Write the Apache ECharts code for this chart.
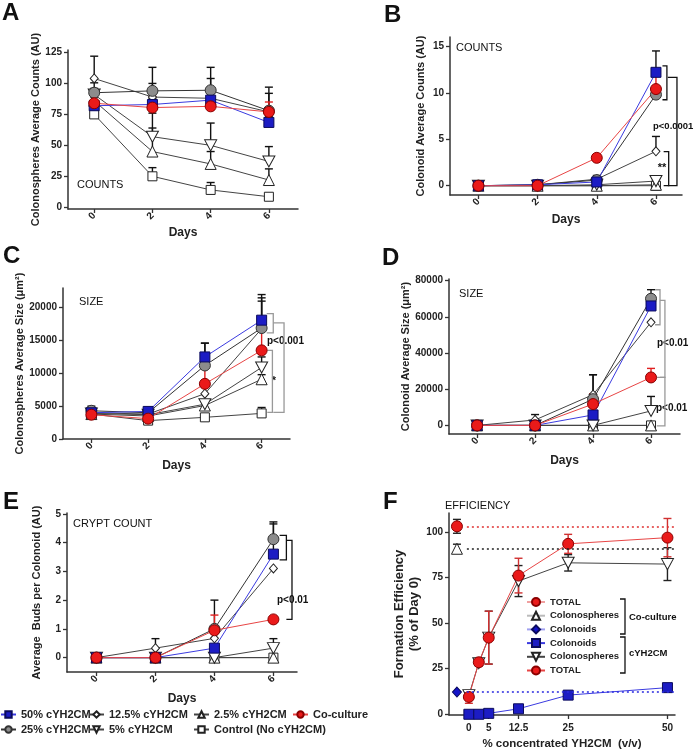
<!DOCTYPE html>
<html><head><meta charset="utf-8">
<script src="https://cdn.jsdelivr.net/npm/echarts@6/dist/echarts.min.js"></script>
<style>html,body{margin:0;padding:0;background:#fff}#c{width:694px;height:751px}</style>
</head><body><div id="c"></div>
<script>
// ---------- DATA ----------
const DAYS = [0, 2, 4, 6];
const DAY_TICKS = [0, 2, 4, 6];
const NAMES = ['Control (No cYH2CM)', '2.5% cYH2CM', '5% cYH2CM', '12.5% cYH2CM', '25% cYH2CM', '50% cYH2CM', 'Co-culture'];

// A: Colonospheres average counts (AU)
const A_ctrl = [75, 25, 14, 8.5],     A_ctrl_err = [2, 7, 6, 2];
const A_p2_5 = [86, 45, 35, 22],      A_p2_5_err = [3, 19, 10, 9];
const A_p5 = [91, 57, 50, 37],        A_p5_err = [5, 19, 18, 12];
const A_p12_5 = [104, 89, 88, 77],    A_p12_5_err = [18, 11, 5, 15];
const A_p25 = [92.5, 94, 94.5, 78],   A_p25_err = [8, 19, 18.5, 19];
const A_p50 = [82, 83, 86.5, 68.5],   A_p50_err = [3, 5, 17.5, 5];
const A_co = [84, 80.5, 81.5, 77],    A_co_err = [2, 9, 6, 8];
const A_TICKS = [0, 25, 50, 75, 100, 125];

// B: Colonoid average counts (AU)
const B_ctrl = [0, 0, 0, 0],          B_ctrl_err = [0, 0, 0, 0];
const B_p2_5 = [0, 0, 0, 0.1],        B_p2_5_err = [0, 0, 0, 0];
const B_p5 = [0, 0, 0.1, 0.5],        B_p5_err = [0, 0, 0, 0.4];
const B_p12_5 = [0, 0.1, 0.7, 3.7],   B_p12_5_err = [0, 0, 0.4, 1.6];
const B_p25 = [0, 0.1, 0.6, 9.8],     B_p25_err = [0, 0, 0, 0];
const B_p50 = [0, 0.1, 0.4, 12.2],    B_p50_err = [0, 0, 0, 2.3];
const B_co = [0, 0, 3.0, 10.4],       B_co_err = [0, 0, 0, 1.8];
const B_TICKS = [0, 5, 10, 15];

// C: Colonospheres average size (um2)
const C_ctrl = [3800, 2800, 3300, 3900],     C_ctrl_err = [0, 0, 0, 900];
const C_p2_5 = [3800, 3500, 5100, 9100],     C_p2_5_err = [0, 0, 0, 700];
const C_p5 = [3900, 3700, 5300, 10900],      C_p5_err = [0, 0, 0, 1600];
const C_p12_5 = [4000, 3800, 6900, 16800],   C_p12_5_err = [0, 0, 0, 4200];
const C_p25 = [4300, 4000, 11200, 16900],    C_p25_err = [700, 0, 3400, 4600];
const C_p50 = [4000, 4200, 12500, 18100],    C_p50_err = [0, 600, 2100, 3900];
const C_co = [3700, 3100, 8400, 13500],      C_co_err = [0, 0, 4100, 3400];
const C_TICKS = [0, 5000, 10000, 15000, 20000];

// D: Colonoid average size (um2)
const D_ctrl = [0, 0, 0, 0],                 D_ctrl_err = [0, 0, 0, 0];
const D_p2_5 = [0, 0, 0, 0],                 D_p2_5_err = [0, 0, 0, 0];
const D_p5 = [0, 0, 0, 8000],                D_p5_err = [0, 0, 0, 8000];
const D_p12_5 = [0, 3000, 17000, 57000],     D_p12_5_err = [0, 3000, 11000, 0];
const D_p25 = [0, 0, 14500, 70000],          D_p25_err = [0, 0, 13500, 5000];
const D_p50 = [0, 0, 5800, 66000],           D_p50_err = [0, 0, 0, 6000];
const D_co = [0, 0, 11800, 26500],           D_co_err = [0, 0, 5700, 5000];
const D_TICKS = [0, 20000, 40000, 60000, 80000];

// E: Average buds per colonoid (AU)
const E_ctrl = [0, 0, 0, 0],            E_ctrl_err = [0, 0, 0, 0];
const E_p2_5 = [0, 0, 0, 0],            E_p2_5_err = [0, 0, 0, 0];
const E_p5 = [0, 0, 0, 0.33],           E_p5_err = [0, 0, 0, 0.33];
const E_p12_5 = [0, 0.33, 0.67, 3.1],   E_p12_5_err = [0, 0.33, 0, 0];
const E_p25 = [0, 0, 1.0, 4.12],        E_p25_err = [0, 0, 1.0, 0.6];
const E_p50 = [0, 0, 0.33, 3.6],        E_p50_err = [0, 0, 0, 1.05];
const E_co = [0, 0, 0.95, 1.33],        E_co_err = [0, 0, 0.53, 0];
const E_TICKS = [0, 1, 2, 3, 4, 5];

// F: Formation efficiency (% of Day 0)
const F_CONC = [0, 2.5, 5, 12.5, 25, 50];
const F_CONC_TICKS = [0, 5, 12.5, 25, 50];
const F_CO_X = -3;
const F_co_total = 103, F_co_total_err = 3.8;
const F_co_spheres = 90.7, F_co_spheres_err = 2.5;
const F_co_colonoids = 12.2;
const F_colonoids = [0, 0, 0.5, 3, 10.5, 14.6];
const F_spheres = [10.5, 28, 42, 73, 83, 82.3],  F_spheres_err = [2.5, 1.5, 14.5, 8.5, 4.5, 9];
const F_total = [9.5, 28.5, 42, 76, 93.4, 96.8], F_total_err = [3.5, 1.5, 14.5, 9.5, 5.2, 10.5];
const F_TICKS = [0, 25, 50, 75, 100];

// Significance brackets [xVertical, yTop, yBottom, xArm]
const B_BRACKETS = [[6.37, 12.9, 9.25, 6.22], [6.71, 11.65, 0, 6.4], [6.43, 3.67, 0, 6.26]];
const C_BRACKETS = [[6.41, 19090, 16170, 6.18], [6.79, 17680, 4045, 6.41], [6.38, 13485, 4045, 6.2]];
const D_BRACKETS = [[6.31, 74970, 55630, 6.14], [6.48, 69060, 26520, 6.31], [6.48, 26520, -300, 6.2]];
const E_BRACKETS = [[6.44, 4.25, 3.4, 6.21], [6.63, 4.08, 1.33, 6.44]];

// ---------- STYLE / BUILD ----------
const FONT = '"Liberation Sans", Arial, Helvetica, sans-serif';
const DOWN_TRI = 'path://M0,0L10,0L5,9Z';
const STY = {
  'Control (No cYH2CM)': {symbol: 'rect', size: 9, color: '#fff', border: '#222', line: '#444'},
  '2.5% cYH2CM': {symbol: 'triangle', size: 11, color: '#fff', border: '#222', line: '#444'},
  '5% cYH2CM': {symbol: DOWN_TRI, size: [12, 11], color: '#fff', border: '#222', line: '#444'},
  '12.5% cYH2CM': {symbol: 'diamond', size: [8, 9], color: '#fff', border: '#222', line: '#444'},
  '25% cYH2CM': {symbol: 'circle', size: 11, color: '#8c8c8c', border: '#333', line: '#333'},
  '50% cYH2CM': {symbol: 'rect', size: 10, color: '#1c1cc4', border: '#0b0b5c', line: '#3b3be0'},
  'Co-culture': {symbol: 'circle', size: 11, color: '#ea1a1a', border: '#8a0000', line: '#e84545'}
};

const series = [];
function lineS(gi, name, xs, ys, st, extra) {
  return Object.assign({
    type: 'line', name, xAxisIndex: gi, yAxisIndex: gi,
    data: xs.map((x, i) => [x, ys[i]]),
    symbol: st.symbol, symbolSize: st.size, showSymbol: true,
    lineStyle: {color: st.line, width: 1},
    itemStyle: {color: st.color, borderColor: st.border, borderWidth: 1},
    z: 4, animation: false, emphasis: {disabled: true}, silent: true
  }, extra || {});
}
function errS(gi, xs, ys, errs, color, both) {
  const data = [];
  xs.forEach((x, i) => { if (errs[i] > 0) data.push([x, ys[i], ys[i] + errs[i], both ? ys[i] - errs[i] : ys[i]]); });
  return {
    type: 'custom', xAxisIndex: gi, yAxisIndex: gi, data, z: 2, silent: true, animation: false,
    renderItem: function (params, api) {
      const x = api.value(0), hi = api.value(2), lo = api.value(3);
      const pH = api.coord([x, hi]), pL = api.coord([x, lo]);
      const st = {stroke: color, lineWidth: 1.4};
      const ch = [
        {type: 'line', shape: {x1: pH[0], y1: pH[1], x2: pL[0], y2: pL[1]}, style: st},
        {type: 'line', shape: {x1: pH[0] - 4, y1: pH[1], x2: pH[0] + 4, y2: pH[1]}, style: st}
      ];
      if (both) ch.push({type: 'line', shape: {x1: pL[0] - 4, y1: pL[1], x2: pL[0] + 4, y2: pL[1]}, style: st});
      return {type: 'group', children: ch};
    }
  };
}
function bracketS(gi, list, color) {
  return {
    type: 'custom', xAxisIndex: gi, yAxisIndex: gi, data: list, z: 1, silent: true, animation: false,
    renderItem: function (params, api) {
      const xv = api.value(0), yt = api.value(1), yb = api.value(2), xa = api.value(3);
      const pts = [api.coord([xa, yt]), api.coord([xv, yt]), api.coord([xv, yb]), api.coord([xa, yb])];
      return {type: 'polyline', shape: {points: pts}, style: {stroke: color, lineWidth: 1.3, fill: null}};
    }
  };
}
function panel(gi, sets, brackets, bcolor) {
  sets.forEach(([name, ys, errs]) => {
    const st = STY[name];
    series.push(errS(gi, DAYS, ys, errs, name === 'Co-culture' ? '#e02020' : '#111', false));
    series.push(lineS(gi, name, DAYS, ys, st));
  });
  series.push(bracketS(gi, brackets, bcolor));
}
panel(0, [[NAMES[0], A_ctrl, A_ctrl_err], [NAMES[1], A_p2_5, A_p2_5_err], [NAMES[2], A_p5, A_p5_err], [NAMES[3], A_p12_5, A_p12_5_err], [NAMES[4], A_p25, A_p25_err], [NAMES[5], A_p50, A_p50_err], [NAMES[6], A_co, A_co_err]], [], '#222');
panel(1, [[NAMES[0], B_ctrl, B_ctrl_err], [NAMES[1], B_p2_5, B_p2_5_err], [NAMES[2], B_p5, B_p5_err], [NAMES[3], B_p12_5, B_p12_5_err], [NAMES[4], B_p25, B_p25_err], [NAMES[5], B_p50, B_p50_err], [NAMES[6], B_co, B_co_err]], B_BRACKETS, '#111');
panel(2, [[NAMES[0], C_ctrl, C_ctrl_err], [NAMES[1], C_p2_5, C_p2_5_err], [NAMES[2], C_p5, C_p5_err], [NAMES[3], C_p12_5, C_p12_5_err], [NAMES[4], C_p25, C_p25_err], [NAMES[5], C_p50, C_p50_err], [NAMES[6], C_co, C_co_err]], C_BRACKETS, '#999');
panel(3, [[NAMES[0], D_ctrl, D_ctrl_err], [NAMES[1], D_p2_5, D_p2_5_err], [NAMES[2], D_p5, D_p5_err], [NAMES[3], D_p12_5, D_p12_5_err], [NAMES[4], D_p25, D_p25_err], [NAMES[5], D_p50, D_p50_err], [NAMES[6], D_co, D_co_err]], D_BRACKETS, '#999');
panel(4, [[NAMES[0], E_ctrl, E_ctrl_err], [NAMES[1], E_p2_5, E_p2_5_err], [NAMES[2], E_p5, E_p5_err], [NAMES[3], E_p12_5, E_p12_5_err], [NAMES[4], E_p25, E_p25_err], [NAMES[5], E_p50, E_p50_err], [NAMES[6], E_co, E_co_err]], E_BRACKETS, '#111');

// Panel F
const redS = STY['Co-culture'];
const dotted = (c) => ({color: c, type: [2, 3], width: 1.6});
series.push(errS(5, F_CONC, F_spheres, F_spheres_err, '#222', true));
series.push(errS(5, F_CONC, F_total, F_total_err, '#d03030', true));
series.push(errS(5, [F_CO_X], [F_co_total], [F_co_total_err], '#222', true));
series.push(errS(5, [F_CO_X], [F_co_spheres], [F_co_spheres_err], '#222', true));
series.push(lineS(5, 'Colonoids (cYH2CM)', F_CONC, F_colonoids, {symbol: 'rect', size: 10, color: '#1c1cc4', border: '#0b0b5c', line: '#3b3be0'}));
series.push(lineS(5, 'Colonospheres (cYH2CM)', F_CONC, F_spheres, {symbol: DOWN_TRI, size: [12, 11], color: '#fff', border: '#222', line: '#444'}));
series.push(lineS(5, 'TOTAL (cYH2CM)', F_CONC, F_total, redS));
series.push(lineS(5, 'TOTAL (Co-culture)', [F_CO_X], [F_co_total], {symbol: 'circle', size: 11, color: '#ea1a1a', border: '#8a0000', line: '#f0a0a0'},
  {markLine: {silent: true, symbol: 'none', label: {show: false}, lineStyle: dotted('#e03030'), data: [[{coord: [-0.5, F_co_total]}, {coord: [51.9, F_co_total]}]]}}));
series.push(lineS(5, 'Colonospheres (Co-culture)', [F_CO_X], [F_co_spheres], {symbol: 'triangle', size: 11, color: '#fff', border: '#222', line: '#bbb'},
  {markLine: {silent: true, symbol: 'none', label: {show: false}, lineStyle: dotted('#222'), data: [[{coord: [-0.5, F_co_spheres]}, {coord: [51.9, F_co_spheres]}]]}}));
series.push(lineS(5, 'Colonoids (Co-culture)', [F_CO_X], [F_co_colonoids], {symbol: 'diamond', size: [9, 10], color: '#1414c8', border: '#0b0b5c', line: '#a0a0f0'},
  {markLine: {silent: true, symbol: 'none', label: {show: false}, lineStyle: dotted('#2a2ae0'), data: [[{coord: [-0.5, F_co_colonoids]}, {coord: [51.9, F_co_colonoids]}]]}}));

// ---------- AXES ----------
const AX_LINE = {show: true, onZero: false, lineStyle: {color: '#333', width: 1.5}};
const TICK_LBL = {fontFamily: FONT, fontWeight: 'bold', fontSize: 10, color: '#222'};
function xAx(gi, min, max, ticks, rotate, name, gap, nameSize) {
  return {
    type: 'value', gridIndex: gi, min, max, axisLine: AX_LINE, splitLine: {show: false},
    axisTick: {show: true, length: 4, customValues: ticks, lineStyle: {color: '#333', width: 1.3}},
    axisLabel: Object.assign({customValues: ticks, rotate, margin: rotate ? 5 : 8, formatter: v => String(v)}, TICK_LBL),
    name, nameLocation: 'middle', nameGap: gap,
    nameTextStyle: {fontFamily: FONT, fontWeight: 'bold', fontSize: nameSize || 12, color: '#222'}
  };
}
function yAx(gi, min, max, ticks, name, gap, size, lh) {
  return {
    type: 'value', gridIndex: gi, min, max, axisLine: AX_LINE, splitLine: {show: false},
    axisTick: {show: true, length: 4, customValues: ticks, lineStyle: {color: '#333', width: 1.3}},
    axisLabel: Object.assign({customValues: ticks, margin: 6, formatter: v => String(v)}, TICK_LBL),
    name, nameLocation: 'middle', nameGap: gap, nameRotate: 90,
    nameTextStyle: {fontFamily: FONT, fontWeight: 'bold', fontSize: size || 11, color: '#222', lineHeight: lh || undefined}
  };
}

const grids = [
  {left: 68, top: 50, width: 230, height: 159},
  {left: 450, top: 37, width: 232, height: 158},
  {left: 63, top: 288, width: 227, height: 151},
  {left: 449, top: 279, width: 231, height: 155},
  {left: 67, top: 513, width: 230, height: 159},
  {left: 449, top: 513, width: 226, height: 202}
];

const xAxis = [
  xAx(0, -0.9, 7.0, DAY_TICKS, 45, 'Days', 18),
  xAx(1, -0.96, 6.88, DAY_TICKS, 45, 'Days', 19),
  xAx(2, -1.0, 7.0, DAY_TICKS, 45, 'Days', 21),
  xAx(3, -0.97, 7.0, DAY_TICKS, 45, 'Days', 21),
  xAx(4, -1.0, 6.8, DAY_TICKS, 45, 'Days', 21),
  xAx(5, -5, 51.9, F_CONC_TICKS, 0, '% concentrated YH2CM  (v/v)', 23, 11.5)
];
const yAxis = [
  yAx(0, -1.4, 127, A_TICKS, 'Colonospheres Average Counts (AU)', 25),
  yAx(1, -1.0, 16.0, B_TICKS, 'Colonoid Average Counts (AU)', 24),
  yAx(2, 0, 23000, C_TICKS, 'Colonospheres Average Size (\u03bcm\u00b2)', 30),
  yAx(3, -4750, 80900, D_TICKS, 'Colonoid Average Size (\u03bcm\u00b2)', 31),
  yAx(4, -0.5, 5.03, E_TICKS, 'Average  Buds per Colonoid (AU)', 25),
  yAx(5, -0.4, 110.3, F_TICKS, 'Formation Efficiency\n(% of Day 0)', 27, 13, 15)
];

// ---------- LEGENDS ----------
const LEG_TXT = {fontFamily: FONT, fontWeight: 'bold', fontSize: 11, color: '#222'};
function leg(name, left, top) {
  return {data: [name], left, top, padding: 0, itemWidth: 15, itemHeight: 8, itemGap: 0, selectedMode: false, textStyle: LEG_TXT};
}
const legend = [
  leg('50% cYH2CM', 0, 709), leg('12.5% cYH2CM', 88, 709), leg('2.5% cYH2CM', 193, 709), leg('Co-culture', 292, 709),
  leg('25% cYH2CM', 0, 724), leg('5% cYH2CM', 88, 724), leg('Control (No cYH2CM)', 193, 724),
  {data: ['TOTAL (Co-culture)', 'Colonospheres (Co-culture)', 'Colonoids (Co-culture)', 'Colonoids (cYH2CM)', 'Colonospheres (cYH2CM)', 'TOTAL (cYH2CM)'],
   orient: 'vertical', left: 526, top: 597, padding: 0, itemWidth: 18, itemHeight: 10, itemGap: 3.7, selectedMode: false,
   formatter: n => n.split(' (')[0],
   textStyle: {fontFamily: FONT, fontWeight: 'bold', fontSize: 9.5, color: '#222', lineHeight: 10}}
];

// ---------- ANNOTATION TEXT ----------
function txt(text, x, y, size, weight, align) {
  return {type: 'text', x, y, silent: true,
    style: {text, fontFamily: FONT, fontSize: size, fontWeight: weight, fill: '#111', textAlign: align || 'left', textVerticalAlign: 'middle'}};
}
const graphic = [
  txt('A', 2, 13, 24, 'bold'), txt('B', 384, 15, 24, 'bold'), txt('C', 3, 256, 24, 'bold'),
  txt('D', 382, 258, 24, 'bold'), txt('E', 3, 502, 24, 'bold'), txt('F', 383, 502, 24, 'bold'),
  txt('COUNTS', 77, 185, 11, 'normal'), txt('COUNTS', 456, 48, 11, 'normal'),
  txt('SIZE', 79, 302, 11, 'normal'), txt('SIZE', 459, 294, 11, 'normal'),
  txt('CRYPT COUNT', 73, 524, 11, 'normal'), txt('EFFICIENCY', 445, 506, 11, 'normal'),
  txt('p<0.0001', 653, 126, 9.5, 'bold'), txt('**', 662, 168, 11, 'bold', 'center'),
  txt('p<0.001', 267, 341, 10, 'bold'), txt('*', 274, 381, 11, 'bold', 'center'),
  txt('p<0.01', 657, 343, 10, 'bold'), txt('p<0.01', 656, 408, 10, 'bold'),
  txt('p<0.01', 277, 600, 10, 'bold'),
  txt('Co-culture', 629, 617, 9.5, 'bold'), txt('cYH2CM', 629, 653, 9.5, 'bold'),
  {type: 'polyline', silent: true, shape: {points: [[620, 599], [625, 599], [625, 634], [620, 634]]}, style: {stroke: '#111', lineWidth: 1.3, fill: null}},
  {type: 'polyline', silent: true, shape: {points: [[620, 637], [625, 637], [625, 673], [620, 673]]}, style: {stroke: '#111', lineWidth: 1.3, fill: null}}
];

const chart = echarts.init(document.getElementById('c'), null, {renderer: 'canvas'});
chart.setOption({
  backgroundColor: '#fff', animation: false,
  grid: grids, xAxis, yAxis, legend, series, graphic
});
</script></body></html>
